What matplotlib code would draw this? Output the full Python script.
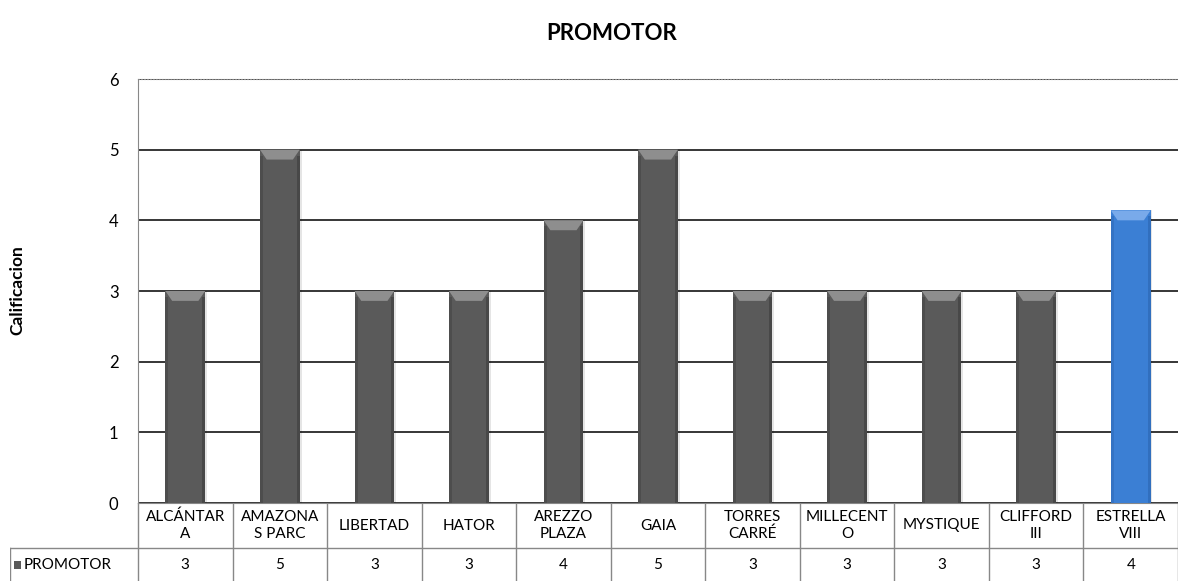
import matplotlib.pyplot as plt
import numpy as np
from matplotlib.patches import Polygon, Rectangle

# data
categories = ["ALCÁNTAR\nA", "AMAZONA\nS PARC", "LIBERTAD", "HATOR", "AREZZO\nPLAZA",
              "GAIA", "TORRES\nCARRÉ", "MILLECENT\nO", "MYSTIQUE", "CLIFFORD\nIII",
              "ESTRELLA\nVIII"]
values = [3, 5, 3, 3, 4, 5, 3, 3, 3, 3, 4.14]
series_name = "PROMOTOR"
highlight = "ESTRELLA\nVIII"

plt.rcParams["font.family"] = ["Lato", "DejaVu Sans"]

fig = plt.figure(figsize=(11.78, 5.81), dpi=100)
W, H = 1178, 581
ax = fig.add_axes([138 / W, 1 - 503 / H, 1 - 138 / W, (503 - 79) / H])

x = np.arange(len(categories))
bw = 0.42
gray = "#5a5a5a"
blue = "#3b7fd4"
colors = [blue if c == highlight else gray for c in categories]
bars = ax.bar(x, values, width=bw, color=colors, edgecolor="none", zorder=3)

# bevel decoration
for b, c in zip(bars, colors):
    x0, w, h = b.get_x(), b.get_width(), b.get_height()
    bev = 0.14
    ins = w * 0.17
    light = "#8e8e8e" if c == gray else "#79aaea"
    dark = "#3a3a3a" if c == gray else "#2a62ad"
    ax.add_patch(Polygon([(x0, h), (x0 + w, h), (x0 + w - ins, h - bev), (x0 + ins, h - bev)],
                         closed=True, color=light, zorder=4, lw=0))
    ax.add_patch(Rectangle((x0, 0), ins * 0.45, h - bev * 0.6, color=dark, alpha=0.4, zorder=4, lw=0))
    ax.add_patch(Rectangle((x0 + w - ins * 0.45, 0), ins * 0.45, h - bev * 0.6, color=dark,
                           alpha=0.55, zorder=4, lw=0))
    ax.add_patch(Rectangle((x0 + w, 0), 0.02, h, color="#000000", alpha=0.1, zorder=2, lw=0))

ax.set_xlim(-0.5, len(categories) - 0.5)
ax.set_ylim(0, 6)
ax.set_yticks(range(0, 7))
ax.tick_params(axis="y", length=0, pad=14, labelsize=12)
ax.set_xticks([])
ax.yaxis.grid(True, color="black", lw=1.1, zorder=1)
ax.spines["right"].set_visible(False)
ax.spines["top"].set_color("#888888")
ax.spines["top"].set_linestyle(":")
ax.spines["left"].set_color("#888888")
ax.spines["bottom"].set_color("#888888")

fig.text(612 / W, 1 - 33 / H, series_name, ha="center", va="center", fontsize=16, fontweight="bold")
fig.text(17 / W, 1 - 290 / H, "Calificacion", rotation=90, ha="center", va="center",
         fontsize=12.5, fontweight="bold")

# data table below the plot
tab = fig.add_axes([10 / W, 0, 1 - 10 / W, 78 / H])
colw = (W - 138) / len(categories)
left = -0.5 - 128 / colw
tab.set_xlim(left, len(categories) - 0.5)
tab.set_ylim(0, 78)
tab.axis("off")
lc = "#888888"
for i in range(len(categories) + 1):
    tab.plot([i - 0.5, i - 0.5], [0, 78], color=lc, lw=1)
tab.plot([left, len(categories) - 0.5], [33, 33], color=lc, lw=1)
tab.plot([left + 0.005, left + 0.005], [0, 33], color=lc, lw=1)
for i, (c, v) in enumerate(zip(categories, values)):
    tab.text(i, 55.5, c, ha="center", va="center", fontsize=11, linespacing=1.3)
    tab.text(i, 16, f"{v:.0f}", ha="center", va="center", fontsize=11)
tab.add_patch(Rectangle((left + 0.04, 12), 0.08, 8, color=gray, lw=0))
tab.text(left + 0.14, 16, series_name, ha="left", va="center", fontsize=11)

fig.savefig("out.png", dpi=100)
